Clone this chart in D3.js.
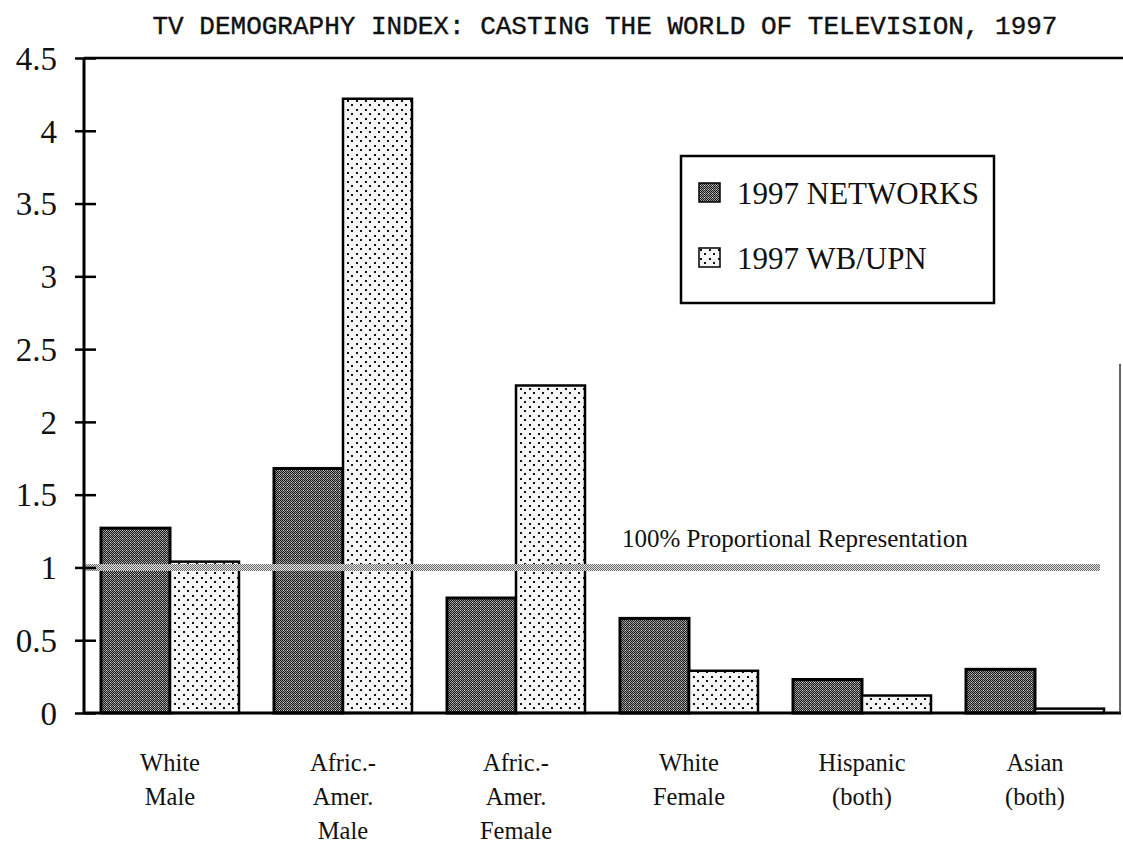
<!DOCTYPE html>
<html>
<head>
<meta charset="utf-8">
<script src="https://cdn.jsdelivr.net/npm/d3@7"></script>
<style>
  html, body { margin: 0; padding: 0; background: #fff; }
  svg { display: block; }
</style>
</head>
<body>
<svg id="chart"></svg>
<script>
const categories = ['White Male', 'Afric.-Amer. Male', 'Afric.-Amer. Female', 'White Female', 'Hispanic (both)', 'Asian (both)'];
const categoryLines = [
  ['White', 'Male'],
  ['Afric.-', 'Amer.', 'Male'],
  ['Afric.-', 'Amer.', 'Female'],
  ['White', 'Female'],
  ['Hispanic', '(both)'],
  ['Asian', '(both)'],
];
const seriesNames = ['1997 NETWORKS', '1997 WB/UPN'];
const networks = [1.27, 1.68, 0.79, 0.65, 0.23, 0.30];
const wbUpn = [1.04, 4.22, 2.25, 0.29, 0.12, 0.03];
const yTicks = [0, 0.5, 1, 1.5, 2, 2.5, 3, 3.5, 4, 4.5];
const proportionalValue = 1;
const proportionalLabel = '100% Proportional Representation';
const title = 'TV DEMOGRAPHY INDEX: CASTING THE WORLD OF TELEVISION, 1997';

const width = 1123;
const height = 847;
const axisX = 84;
const plotRight = 1120;
const serif = '"Liberation Serif", "Times New Roman", serif';

const svg = d3.select('#chart')
  .attr('width', width)
  .attr('height', height);

// fill patterns imitating the old halftone shading
const defs = svg.append('defs');
const dark = defs.append('pattern')
  .attr('id', 'pat-networks')
  .attr('patternUnits', 'userSpaceOnUse')
  .attr('width', 4).attr('height', 4);
dark.append('rect').attr('width', 4).attr('height', 4).attr('fill', '#9a9a9a');
[[0, 0], [2, 0], [1, 1], [3, 1], [0, 2], [2, 2], [1, 3], [3, 3]].forEach(([px, py]) => {
  dark.append('rect').attr('x', px).attr('y', py).attr('width', 1).attr('height', 1).attr('fill', '#1a1a1a');
});
dark.append('rect').attr('x', 1).attr('y', 2).attr('width', 1).attr('height', 1).attr('fill', '#e0e0e0');

const dots = defs.append('pattern')
  .attr('id', 'pat-wbupn')
  .attr('patternUnits', 'userSpaceOnUse')
  .attr('width', 9).attr('height', 9);
dots.append('rect').attr('width', 9).attr('height', 9).attr('fill', '#f6f6f6');
dots.append('rect').attr('x', 1).attr('y', 1).attr('width', 2).attr('height', 2).attr('fill', '#111');
dots.append('rect').attr('x', 5).attr('y', 5).attr('width', 2).attr('height', 2).attr('fill', '#111');

const lineFill = defs.append('pattern')
  .attr('id', 'pat-line')
  .attr('patternUnits', 'userSpaceOnUse')
  .attr('width', 2).attr('height', 2);
lineFill.append('rect').attr('width', 2).attr('height', 2).attr('fill', '#e4e4e4');
lineFill.append('rect').attr('x', 0).attr('y', 0).attr('width', 1).attr('height', 1).attr('fill', '#6a6a6a');
lineFill.append('rect').attr('x', 1).attr('y', 1).attr('width', 1).attr('height', 1).attr('fill', '#6a6a6a');

const y = d3.scaleLinear().domain([0, 4.5]).range([713, 58]);
const x0 = d3.scaleBand()
  .domain(categories)
  .range([axisX, plotRight])
  .paddingInner(0.205)
  .paddingOuter(0.092)
  .round(true);
const x1 = d3.scaleBand()
  .domain(seriesNames)
  .range([0, x0.bandwidth()])
  .round(true);

const fills = { '1997 NETWORKS': 'url(#pat-networks)', '1997 WB/UPN': 'url(#pat-wbupn)' };

svg.append('text')
  .attr('x', 605)
  .attr('y', 34)
  .attr('text-anchor', 'middle')
  .attr('font-family', '"Liberation Mono", "Courier New", monospace')
  .attr('font-size', 26)
  .attr('stroke', '#111')
  .attr('stroke-width', 0.4)
  .attr('fill', '#111')
  .text(title);

// bars
const groups = svg.append('g')
  .selectAll('g')
  .data(categories)
  .join('g')
  .attr('transform', (d) => `translate(${x0(d)},0)`);

groups.selectAll('rect')
  .data((d, i) => [
    { key: seriesNames[0], value: networks[i] },
    { key: seriesNames[1], value: wbUpn[i] },
  ])
  .join('rect')
  .attr('x', (d) => x1(d.key))
  .attr('y', (d) => y(d.value))
  .attr('width', x1.bandwidth())
  .attr('height', (d) => y(0) - y(d.value))
  .attr('fill', (d) => fills[d.key])
  .attr('stroke', '#000')
  .attr('stroke-width', (d) => (d.key === seriesNames[0] ? 3 : 2.5));

// reference line at 1.0, drawn over the bars
svg.append('rect')
  .attr('x', axisX)
  .attr('y', Math.round(y(proportionalValue) - 3.5))
  .attr('width', 1100 - axisX)
  .attr('height', 7)
  .attr('fill', 'url(#pat-line)');

svg.append('text')
  .attr('x', 622)
  .attr('y', 547)
  .attr('font-family', serif)
  .attr('font-size', 25)
  .attr('fill', '#111')
  .text(proportionalLabel);

// frame: top line, baseline, faint right edge
svg.append('line')
  .attr('x1', axisX).attr('x2', width)
  .attr('y1', y(4.5)).attr('y2', y(4.5))
  .attr('stroke', '#000').attr('stroke-width', 2.5);
svg.append('line')
  .attr('x1', axisX).attr('x2', plotRight + 1)
  .attr('y1', y(0)).attr('y2', y(0))
  .attr('stroke', '#000').attr('stroke-width', 3);
svg.append('line')
  .attr('x1', plotRight).attr('x2', plotRight)
  .attr('y1', y(2.4)).attr('y2', y(0))
  .attr('stroke', '#333').attr('stroke-width', 1.5);

// y axis
const yAxis = svg.append('g')
  .attr('transform', `translate(${axisX},0)`)
  .call(d3.axisLeft(y).tickValues(yTicks).tickSize(0).tickPadding(27).tickFormat(d3.format('')));
yAxis.select('.domain')
  .attr('stroke', '#000')
  .attr('stroke-width', 3)
  .attr('d', `M0,${y(4.5)}V${y(0)}`);
yAxis.selectAll('.tick line')
  .attr('x1', -9).attr('x2', 12)
  .attr('stroke', '#000')
  .attr('stroke-width', 2.5);
yAxis.selectAll('.tick text')
  .attr('font-family', serif)
  .attr('font-size', 33)
  .attr('fill', '#111')
  .attr('dy', '0.34em');

// x labels
const xLabels = svg.append('g')
  .selectAll('text')
  .data(categories)
  .join('text')
  .attr('x', (d) => x0(d) + x0.bandwidth() / 2)
  .attr('y', 771)
  .attr('text-anchor', 'middle')
  .attr('font-family', serif)
  .attr('font-size', 24.5)
  .attr('fill', '#111');
xLabels.selectAll('tspan')
  .data((d, i) => categoryLines[i])
  .join('tspan')
  .attr('x', function () { return d3.select(this.parentNode).attr('x'); })
  .attr('dy', (d, i) => (i === 0 ? 0 : 34))
  .text((d) => d);

// legend
const legend = svg.append('g').attr('transform', 'translate(681,156)');
legend.append('rect')
  .attr('width', 313)
  .attr('height', 147)
  .attr('fill', '#fff')
  .attr('stroke', '#000')
  .attr('stroke-width', 2.5);
const items = legend.selectAll('g.item')
  .data(seriesNames)
  .join('g')
  .attr('class', 'item')
  .attr('transform', (d, i) => `translate(18,${27 + i * 65})`);
items.append('rect')
  .attr('width', 21)
  .attr('height', 19)
  .attr('fill', (d) => fills[d])
  .attr('stroke', '#000')
  .attr('stroke-width', 1.5);
items.append('text')
  .attr('x', 38)
  .attr('y', 21)
  .attr('font-family', serif)
  .attr('font-size', 31)
  .attr('fill', '#111')
  .text((d) => d);
</script>
</body>
</html>
